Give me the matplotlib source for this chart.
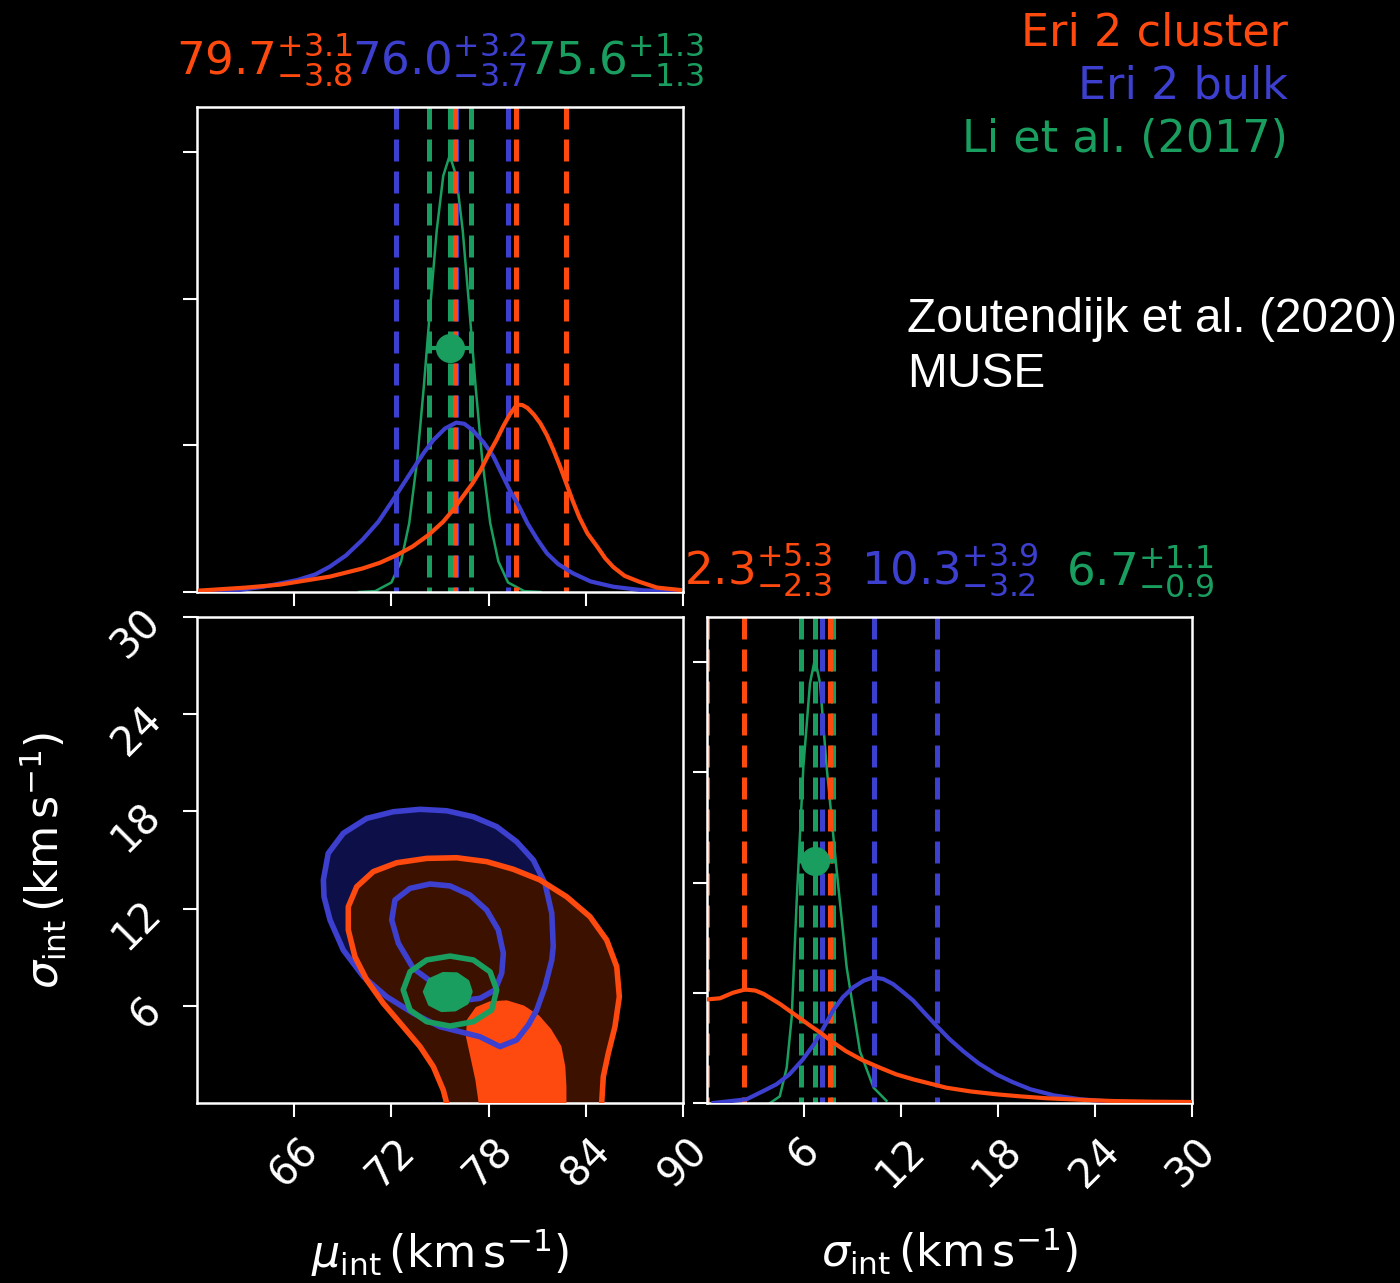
import matplotlib
matplotlib.use("Agg")
import matplotlib.pyplot as plt
from matplotlib.patches import Polygon
import numpy as np

plt.rcParams["mathtext.fontset"] = "dejavusans"
plt.rcParams["font.family"] = "DejaVu Sans"

RED = "#ff4a0f"
BLUE = "#3d3fcf"
GREEN = "#1a9e5f"
RED_DARK = "#3d1100"
BLUE_DARK = "#0d1048"

# posterior summaries: median, +err, -err
names = ["Eri 2 cluster", "Eri 2 bulk", "Li et al. (2017)"]
colors = [RED, BLUE, GREEN]
mu_med = [79.7, 76.0, 75.6]
mu_up = [3.1, 3.2, 1.3]
mu_lo = [3.8, 3.7, 1.3]
sig_med = [2.3, 10.3, 6.7]
sig_up = [5.3, 3.9, 1.1]
sig_lo = [2.3, 3.2, 0.9]

# marginal posterior of mu_int
red_mu_x = [60.2, 63.0, 65.1, 68.2, 70.2, 71.3, 72.3, 73.3, 74.3, 75.2, 75.8, 76.4, 77.0, 77.5,
            78.0, 78.5, 78.9, 79.3, 79.75, 80.1, 80.4, 80.8, 81.2, 81.6, 82.0, 82.4, 82.8,
            83.2, 83.6, 84.1, 84.7, 85.2, 85.7, 86.4, 87.3, 88.4, 89.8]
red_mu_y = [0.001, 0.003, 0.005, 0.0105, 0.016, 0.020, 0.025, 0.031, 0.039, 0.048, 0.056, 0.065,
            0.074, 0.083, 0.094, 0.104, 0.113, 0.121, 0.128, 0.1275, 0.1256, 0.121, 0.115, 0.107,
            0.097, 0.086, 0.074, 0.062, 0.051, 0.040, 0.031, 0.023, 0.017, 0.011, 0.007, 0.003,
            0.0014]
blue_mu_x = [60.2, 62.5, 64.1, 66.2, 67.3, 68.2, 69.2, 70.2, 71.2, 72.1, 73.3, 74.0, 74.6, 75.3,
             76.0, 76.5, 77.0, 77.7, 78.3, 78.8, 79.3, 79.9, 80.4, 81.0, 81.6, 82.3, 83.2,
             84.3, 85.7, 87.5, 89.8]
blue_mu_y = [0.0, 0.0012, 0.0036, 0.0082, 0.012, 0.0173, 0.025, 0.0355, 0.048, 0.0628, 0.0833,
             0.095, 0.1038, 0.1115, 0.1156, 0.1148, 0.1106, 0.102, 0.0924, 0.081, 0.0696, 0.058,
             0.0469, 0.036, 0.0264, 0.019, 0.0128, 0.0072, 0.0036, 0.0012, 0.0]
green_mu_x = [70.0, 71.0, 72.0, 72.6, 73.1, 73.6, 74.0, 74.4, 74.8, 75.2, 75.6,
              76.0, 76.4, 76.8, 77.2, 77.6, 78.1, 78.6, 79.2, 80.2, 81.2]
green_mu_y = [0.0, 0.0006, 0.0065, 0.021, 0.047, 0.091, 0.140, 0.195, 0.247, 0.284, 0.298,
              0.284, 0.247, 0.195, 0.140, 0.091, 0.047, 0.021, 0.0065, 0.0006, 0.0]

# marginal posterior of sigma_int
red_sig_x = [0.0, 0.8, 1.6, 2.35, 3.0, 3.5, 4.5, 5.55, 6.3, 7.0, 7.8, 8.6, 9.6, 10.7, 11.7, 12.75,
             14.8, 16.3, 17.9, 19.4, 21.0, 23.0, 25.1, 27.5, 30.0]
red_sig_y = [0.094, 0.095, 0.100, 0.103, 0.102, 0.099, 0.090, 0.079, 0.071, 0.064, 0.055, 0.047,
             0.039, 0.032, 0.026, 0.0215, 0.0139, 0.0105, 0.0079, 0.006, 0.0043, 0.003, 0.0018,
             0.0012, 0.0009]
blue_sig_x = [0.4, 2.45, 3.5, 4.3, 5.1, 5.9, 6.6, 7.2, 7.8, 8.4, 9.05, 9.7, 10.3, 10.9, 11.5,
              12.1, 12.75, 13.5, 14.2, 15.0, 15.85, 16.8, 17.9, 18.9, 20.0, 21.5, 23.1, 25.0,
              27.2, 30.0]
blue_sig_y = [0.0, 0.0034, 0.011, 0.017, 0.026, 0.039, 0.053, 0.068, 0.084, 0.096, 0.105, 0.111,
              0.114, 0.1125, 0.108, 0.101, 0.093, 0.081, 0.070, 0.058, 0.047, 0.036, 0.026, 0.019,
              0.0125, 0.0068, 0.0034, 0.0012, 0.0003, 0.0]
green_sig_x = [3.9, 4.5, 4.93, 5.24, 5.55, 5.96, 6.37, 6.68, 6.99, 7.4, 8.0, 8.64, 9.46, 10.3, 11.1]
green_sig_y = [0.0, 0.006, 0.032, 0.078, 0.184, 0.305, 0.381, 0.403, 0.381, 0.305, 0.214, 0.123,
               0.047, 0.014, 0.002]

# credible-region outlines in the (mu_int, sigma_int) plane
blue_outer_x = [67.80, 68.10, 69.03, 70.48, 72.12, 73.77, 75.41, 77.06, 78.50, 79.73, 80.76, 81.48,
                81.90, 81.99, 81.90, 81.48, 80.97, 80.45, 79.73, 78.70, 77.47, 75.00, 73.35, 71.71,
                70.27, 69.03, 68.21, 67.84]
blue_outer_y = [13.77, 15.41, 16.65, 17.57, 17.98, 18.13, 18.04, 17.67, 17.06, 16.13, 15.00, 13.56,
                11.71, 9.65, 8.83, 7.18, 5.74, 4.81, 3.89, 3.48, 4.09, 4.71, 5.54, 6.56,
                7.80, 9.44, 11.30, 12.73]
blue_inner_x = [74.59, 73.35, 72.43, 72.02, 72.22, 73.15, 74.38, 75.62, 76.85, 77.88, 78.60, 78.91,
                78.81, 78.40, 77.47, 76.65, 75.62]
blue_inner_y = [7.39, 8.31, 9.86, 11.30, 12.53, 13.25, 13.52, 13.40, 12.84, 11.91, 10.68, 9.24,
                8.01, 6.98, 6.46, 6.36, 6.77]
red_outer_x = [75.45, 75.41, 75.20, 74.59, 73.77, 72.73, 71.50, 70.48, 69.75, 69.34, 69.34, 69.86,
               70.88, 72.33, 74.18, 76.03, 77.88, 79.52, 81.17, 82.82, 84.26, 85.29, 85.91, 86.07,
               85.80, 85.39, 85.08, 84.98, 84.95]
red_outer_y = [-1.0, 0.0, 0.80, 2.24, 3.48, 4.71, 6.15, 7.59, 9.03, 10.68, 12.12, 13.35,
               14.28, 14.83, 15.10, 15.14, 14.90, 14.43, 13.77, 12.73, 11.50, 10.06, 8.41, 6.56,
               4.71, 3.07, 1.62, 0.0, -1.0]
red_inner_x = [77.47, 77.47, 77.27, 76.96, 76.69, 76.75, 77.27, 78.09, 79.12, 80.14, 81.07, 81.79,
               82.41, 82.65, 82.72, 82.72, 82.72]
red_inner_y = [-1.0, 0.0, 1.42, 2.86, 4.09, 5.12, 5.85, 6.19, 6.25, 5.94, 5.33, 4.51,
               3.48, 2.24, 1.01, 0.0, -1.0]
green_outer_x = [72.73, 73.15, 74.18, 75.62, 77.06, 78.09, 78.50, 78.19, 77.06, 75.62, 74.18, 73.15]
green_outer_y = [6.98, 8.10, 8.83, 9.07, 8.83, 8.10, 6.98, 5.74, 5.02, 4.75, 5.02, 5.74]
green_inner_x = [74.07, 74.38, 75.20, 76.03, 76.69, 76.89, 76.65, 75.93, 75.10, 74.38]
green_inner_y = [6.87, 7.59, 7.96, 7.94, 7.49, 6.87, 6.19, 5.78, 5.74, 6.11]

# Li et al. point estimate shown as a marker in each panel
li_mu, li_sig = 75.6, 6.7
li_mu_dot_y = 0.1666
li_sig_dot_y = 0.22

W, H = 1400, 1283
fig = plt.figure(figsize=(W / 100, H / 100), dpi=100, facecolor="black")

ax_mu = fig.add_axes([197 / W, 1 - 592 / H, 486 / W, 485 / H])
ax_2d = fig.add_axes([197 / W, 1 - 1103 / H, 486 / W, 486 / H])
ax_sig = fig.add_axes([707 / W, 1 - 1103 / H, 485 / W, 486 / H])

for ax in (ax_mu, ax_2d, ax_sig):
    ax.set_facecolor("black")
    for sp in ax.spines.values():
        sp.set_color("white")
        sp.set_linewidth(1.8)
    ax.tick_params(colors="white", length=10, width=1.5, direction="out",
                   labelsize=29, pad=10)

DASH = (4.4, 2.0)


def vdash(ax, x, c):
    ax.plot([x, x], [1, 0], transform=ax.get_xaxis_transform(), color=c,
            lw=3.6, dashes=DASH, zorder=2, solid_capstyle="butt")


# --- mu_int marginal
order = [1, 2, 0]
for i in order:
    for v in (mu_med[i] - mu_lo[i], mu_med[i], mu_med[i] + mu_up[i]):
        vdash(ax_mu, v, colors[i])
ax_mu.plot(green_mu_x, green_mu_y, color=GREEN, lw=1.8, zorder=1.5)
ax_mu.plot(blue_mu_x, blue_mu_y, color=BLUE, lw=3.0, zorder=3)
ax_mu.plot(red_mu_x, red_mu_y, color=RED, lw=3.0, zorder=3)
ax_mu.errorbar([li_mu], [li_mu_dot_y], xerr=[[mu_lo[2]], [mu_up[2]]], fmt="o", color=GREEN,
               ms=20, elinewidth=3, capsize=0, zorder=4)
ax_mu.set_xlim(60, 90)
ax_mu.set_ylim(0, 0.331)
ax_mu.set_xticks([66, 72, 78, 84, 90])
ax_mu.set_yticks([0, 0.1, 0.2, 0.3])
ax_mu.tick_params(labelbottom=False, labelleft=False)

# --- sigma_int marginal
for i in order:
    for v in (sig_med[i] - sig_lo[i], sig_med[i], sig_med[i] + sig_up[i]):
        vdash(ax_sig, v, colors[i])
ax_sig.plot(green_sig_x, green_sig_y, color=GREEN, lw=1.8, zorder=1.5)
ax_sig.plot(blue_sig_x, blue_sig_y, color=BLUE, lw=3.0, zorder=3)
ax_sig.plot(red_sig_x, red_sig_y, color=RED, lw=3.0, zorder=3)
ax_sig.errorbar([li_sig], [li_sig_dot_y], xerr=[[sig_lo[2]], [sig_up[2]]], fmt="o", color=GREEN,
                ms=20, elinewidth=3, capsize=0, zorder=4)
ax_sig.set_xlim(0, 30)
ax_sig.set_ylim(0, 0.441)
ax_sig.set_xticks([6, 12, 18, 24, 30])
ax_sig.set_yticks([0, 0.1, 0.2, 0.3, 0.4])
ax_sig.tick_params(labelleft=False)
for lab in ax_sig.get_xticklabels():
    lab.set_rotation(45)

# --- joint posterior
def region(x, y, **kw):
    ax_2d.add_patch(Polygon(np.column_stack([x, y]), closed=True, joinstyle="round", **kw))


region(blue_outer_x, blue_outer_y, facecolor=BLUE_DARK, edgecolor="none", zorder=1)
region(red_outer_x, red_outer_y, facecolor=RED_DARK, edgecolor="none", zorder=2)
region(red_inner_x, red_inner_y, facecolor=RED, edgecolor=RED, lw=2, zorder=3)
region(blue_outer_x, blue_outer_y, facecolor="none", edgecolor=BLUE, lw=4, zorder=4)
region(blue_inner_x, blue_inner_y, facecolor="none", edgecolor=BLUE, lw=4, zorder=4)
region(red_outer_x, red_outer_y, facecolor="none", edgecolor=RED, lw=4, zorder=5)
region(green_outer_x, green_outer_y, facecolor="none", edgecolor=GREEN, lw=4, zorder=6)
region(green_inner_x, green_inner_y, facecolor=GREEN, edgecolor=GREEN, lw=3, zorder=6)
ax_2d.plot([li_mu], [li_sig], "o", color=GREEN, ms=20, zorder=7)
ax_2d.set_xlim(60, 90)
ax_2d.set_ylim(0, 30)
ax_2d.set_xticks([66, 72, 78, 84, 90])
ax_2d.set_yticks([6, 12, 18, 24, 30])
for lab in ax_2d.get_xticklabels() + ax_2d.get_yticklabels():
    lab.set_rotation(45)

unit = r"\,(\mathrm{km\,s^{-1}})$"
ax_2d.set_xlabel(r"$\mu_{\rm int}" + unit, color="white", fontsize=32, labelpad=22)
ax_2d.set_ylabel(r"$\sigma_{\rm int}" + unit, color="white", fontsize=32, labelpad=26)
ax_sig.set_xlabel(r"$\sigma_{\rm int}" + unit, color="white", fontsize=32, labelpad=22)

# --- median +/- headers above the marginals
renderer = fig.canvas.get_renderer()


def header(ax, meds, ups, los, gap):
    texts = []
    for m, u, l, c in zip(meds, ups, los, colors):
        s = rf"${m:.1f}^{{+{u:.1f}}}_{{-{l:.1f}}}$"
        texts.append(fig.text(0, 0, s, color=c, fontsize=32.5, va="baseline"))
    widths = [t.get_window_extent(renderer).width for t in texts]
    bb = ax.get_position()
    x = (bb.x0 + bb.x1) / 2 * W - (sum(widths) + gap * (len(widths) - 1)) / 2
    y = bb.y1 * H + 32
    for t, w in zip(texts, widths):
        t.set_position((x / W, y / H))
        x += w + gap


header(ax_mu, mu_med, mu_up, mu_lo, 0)
header(ax_sig, sig_med, sig_up, sig_lo, 28)

# legend entries as coloured text
for k, (name, c) in enumerate(zip(names, colors)):
    fig.text(1288 / W, 1 - (45 + 53.5 * k) / H, name, color=c, fontsize=32,
             ha="right", va="baseline")

fig.text(907 / W, 1 - 387 / H, "Zoutendijk et al. (2020)\nMUSE", color="white",
         fontsize=34.5, family="Liberation Sans", ha="left", va="baseline", linespacing=1.3)

fig.savefig("out.png", dpi=100, facecolor="black")
